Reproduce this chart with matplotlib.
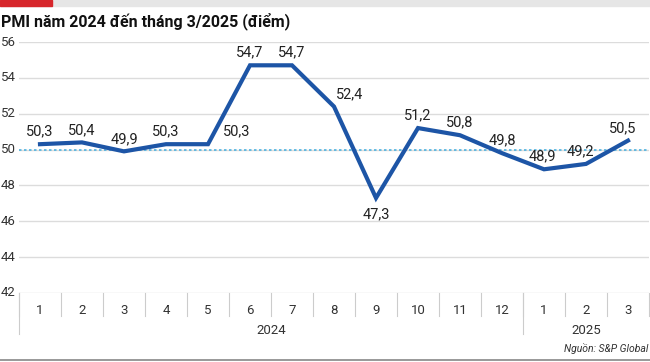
import matplotlib.pyplot as plt
from matplotlib.transforms import blended_transform_factory
from matplotlib.patches import Rectangle

months = ["1", "2", "3", "4", "5", "6", "7", "8", "9", "10", "11", "12", "1", "2", "3"]
pmi = [50.3, 50.4, 49.9, 50.3, 50.3, 54.7, 54.7, 52.4, 47.3, 51.2, 50.8, 49.8, 48.9, 49.2, 50.5]
years = ["2024", "2025"]
year_spans = [(0, 12), (12, 15)]
yticks = [42, 44, 46, 48, 50, 52, 54, 56]

# label offsets in points (dx, dy) for each point
label_off = [(0, 4), (0, 4), (0, 4), (0, 4), (21, 4), (0, 4), (0, 4), (11, 4),
             (0, -7), (0, 4), (0, 4), (0, 4), (-1, 4), (-4, 4), (-4, 4)]

plt.rcParams['font.family'] = ['Roboto', 'DejaVu Sans']

fig = plt.figure(figsize=(6.5, 3.62), dpi=100)
ax = fig.add_axes([19 / 650, 1 - 293 / 362, 630 / 650, (293 - 42) / 362])

x = list(range(len(pmi)))
ax.set_xlim(-0.5, len(pmi) - 0.5)
ax.set_ylim(42, 56)

for y in yticks:
    ax.axhline(y, color="#dcdcdc", lw=1, zorder=0)
ax.axhline(50, color="#4fb3e0", lw=1.2, ls=(0, (1.5, 1.5)), zorder=1)

ax.plot(x, pmi, color="#1d55a6", lw=3, solid_joinstyle="miter", zorder=3)

for i, v in enumerate(pmi):
    dx, dy = label_off[i]
    ax.annotate(f"{v:.1f}".replace(".", ","), (i, v), xytext=(dx, dy),
                textcoords="offset points", ha="center",
                va="bottom" if dy > 0 else "top",
                fontsize=10.5, color="#222222", zorder=4)

for s in ax.spines.values():
    s.set_visible(False)
ax.set_xticks([])
ax.set_yticks([])

for y in yticks:
    fig.text(1 / 650, (y - 42) / 14 * ((293 - 42) / 362) + 1 - 293 / 362, str(y),
             ha="left", va="center", fontsize=9.5, color="#333333")

# category cells under the axis
tr = blended_transform_factory(ax.transData, fig.transFigure)
y_top = 1 - 293 / 362
y_tick_bot = 1 - 316 / 362
y_year_bot = 1 - 334 / 362
for i, m in enumerate(months):
    ax.text(i, 1 - 310 / 362, m, transform=tr, ha="center", va="center",
            fontsize=9.5, color="#333333")
    ax.plot([i - 0.5, i - 0.5], [y_top, y_tick_bot], transform=tr,
            color="#cccccc", lw=0.8, clip_on=False)
ax.plot([len(pmi) - 0.5] * 2, [y_top, y_tick_bot], transform=tr,
        color="#cccccc", lw=0.8, clip_on=False)
for (a, b), yr in zip(year_spans, years):
    ax.plot([a - 0.5, a - 0.5], [y_top, y_year_bot], transform=tr,
            color="#cccccc", lw=0.8, clip_on=False)
    ax.text((a + b - 1) / 2, 1 - 330 / 362, yr, transform=tr, ha="center",
            va="center", fontsize=9.5, color="#333333")

# header bars and title
fig.patches.append(Rectangle((0, 1 - 6 / 362), 1, 6 / 362, transform=fig.transFigure,
                             color="#e6e6e6", zorder=0))
fig.patches.append(Rectangle((0, 1 - 6 / 362), 52 / 650, 6 / 362, transform=fig.transFigure,
                             color="#d7262b", zorder=1))
fig.text(1 / 650, 1 - 21 / 362, "PMI năm 2024 đến tháng 3/2025 (điểm)", ha="left",
         va="center", fontsize=11.5, fontweight="bold", color="#111111")

fig.text(648 / 650, 1 - 349 / 362, "Nguồn: S&P Global", ha="right", va="center",
         fontsize=7.5, style="italic", color="#333333")
fig.lines.append(plt.Line2D([0, 1], [1 - 360 / 362] * 2, transform=fig.transFigure,
                            color="#888888", lw=1.2))

fig.savefig("out.png", dpi=100)
